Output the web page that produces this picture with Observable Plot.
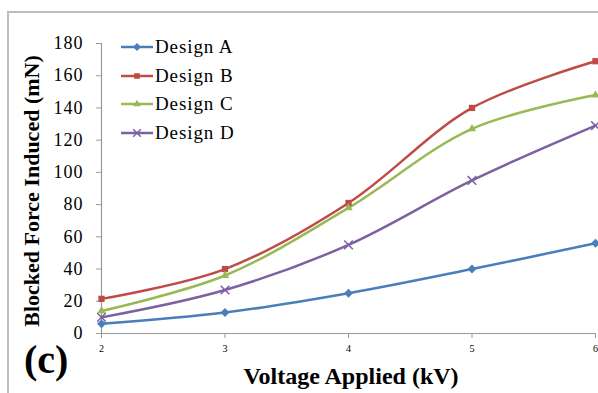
<!DOCTYPE html>
<html>
<head>
<meta charset="utf-8">
<script src="https://cdn.jsdelivr.net/npm/d3@7"></script>
<script src="https://cdn.jsdelivr.net/npm/@observablehq/plot@0.6"></script>
<style>
  body { margin: 0; background: #fff; }
  #wrap { position: relative; width: 598px; height: 393px; overflow: hidden; font-family: "Liberation Serif", "DejaVu Serif", serif; }
  #frame { position: absolute; left: 7px; top: 11px; width: 600px; height: 400px; border: 2px solid #bdbdbd; box-sizing: border-box; }
  #chart { position: absolute; left: 0; top: 0; }
  .title { position: absolute; font-weight: bold; color: #000; white-space: nowrap; line-height: 1; }
  #legend { position: absolute; left: 120px; top: 33px; }
  .item { display: flex; align-items: center; height: 28.5px; font-size: 19px; letter-spacing: 0.9px; }
  .item svg { margin-right: 1px; }
  .yax text { letter-spacing: 1px; }
</style>
</head>
<body>
<div id="wrap">
  <div id="frame"></div>
  <div id="chart"></div>
  <div id="legend"></div>
  <div class="title" style="left:351px; top:376px; transform:translate(-50%,-50%); font-size:24px;">Voltage Applied (kV)</div>
  <div class="title" style="left:32px; top:191px; transform:translate(-50%,-50%) rotate(-90deg); font-size:22px;">Blocked Force Induced (mN)</div>
  <div class="title" style="left:24px; top:340px; font-size:40px;">(c)</div>
</div>
<script>
const voltages = [2, 3, 4, 5, 6];
const seriesNames = ["Design A", "Design B", "Design C", "Design D"];
const designA = [6, 13, 25, 40, 56];
const designB = [21.5, 40, 81, 140, 169];
const designC = [14, 36, 78, 127, 148];
const designD = [10, 27, 55, 95, 129];
const yTicks = [0, 20, 40, 60, 80, 100, 120, 140, 160, 180];
const xTicks = [2, 3, 4, 5, 6];

const colors = ["#4a7ebb", "#be4b48", "#98b954", "#7d60a0"];
const symbols = ["diamond2", "square2", "triangle2", "times"];
const allValues = [designA, designB, designC, designD];

const data = [];
seriesNames.forEach((name, i) => {
  voltages.forEach((v, j) => data.push({ series: name, x: v, y: allValues[i][j] }));
});

const plot = Plot.plot({
  width: 598,
  height: 393,
  marginLeft: 101,
  marginRight: 3,
  marginTop: 43,
  marginBottom: 60,
  style: { fontFamily: "Liberation Serif, serif", background: "transparent", color: "#000" },
  x: { domain: [2, 6] },
  y: { domain: [0, 180] },
  color: { domain: seriesNames, range: colors },
  symbol: { domain: seriesNames, range: symbols },
  marks: [
    Plot.ruleX([2], { stroke: "#9a9a9a", strokeWidth: 1.2 }),
    Plot.ruleY([0], { stroke: "#9a9a9a", strokeWidth: 1.2 }),
    Plot.axisY({ ticks: yTicks, tickSize: 5, tickPadding: 13, fontSize: 18, stroke: "#9a9a9a", label: null, className: "yax", tickFormat: d => String(d) }),
    Plot.axisX({ ticks: xTicks, tickSize: 5, tickPadding: 6, fontSize: 10, stroke: "#9a9a9a", label: null, tickFormat: d => String(d) }),
    Plot.line(data, { x: "x", y: "y", z: "series", stroke: "series", strokeWidth: 2.5, curve: "catmull-rom" }),
    Plot.dot(data.filter(d => d.series !== "Design D"), { x: "x", y: "y", symbol: "series", fill: "series", r: 4 }),
    Plot.dot(data.filter(d => d.series === "Design D"), { x: "x", y: "y", symbol: "series", stroke: "series", r: 4, strokeWidth: 1.5 })
  ]
});
document.getElementById("chart").appendChild(plot);

const legend = document.getElementById("legend");
seriesNames.forEach((name, i) => {
  const row = document.createElement("div");
  row.className = "item";
  const sym = d3.symbol(i === 0 ? d3.symbolDiamond2 : i === 1 ? d3.symbolSquare2 : i === 2 ? d3.symbolTriangle2 : d3.symbolTimes, 40)();
  const isStroke = i === 3;
  row.innerHTML = `<svg width="34" height="12"><line x1="1" x2="33" y1="6" y2="6" stroke="${colors[i]}" stroke-width="2.5"/>` +
    `<path transform="translate(17,6)" d="${sym}" fill="${isStroke ? "none" : colors[i]}" stroke="${isStroke ? colors[i] : "none"}" stroke-width="1.5"/></svg><span>${name}</span>`;
  legend.appendChild(row);
});
</script>
</body>
</html>
